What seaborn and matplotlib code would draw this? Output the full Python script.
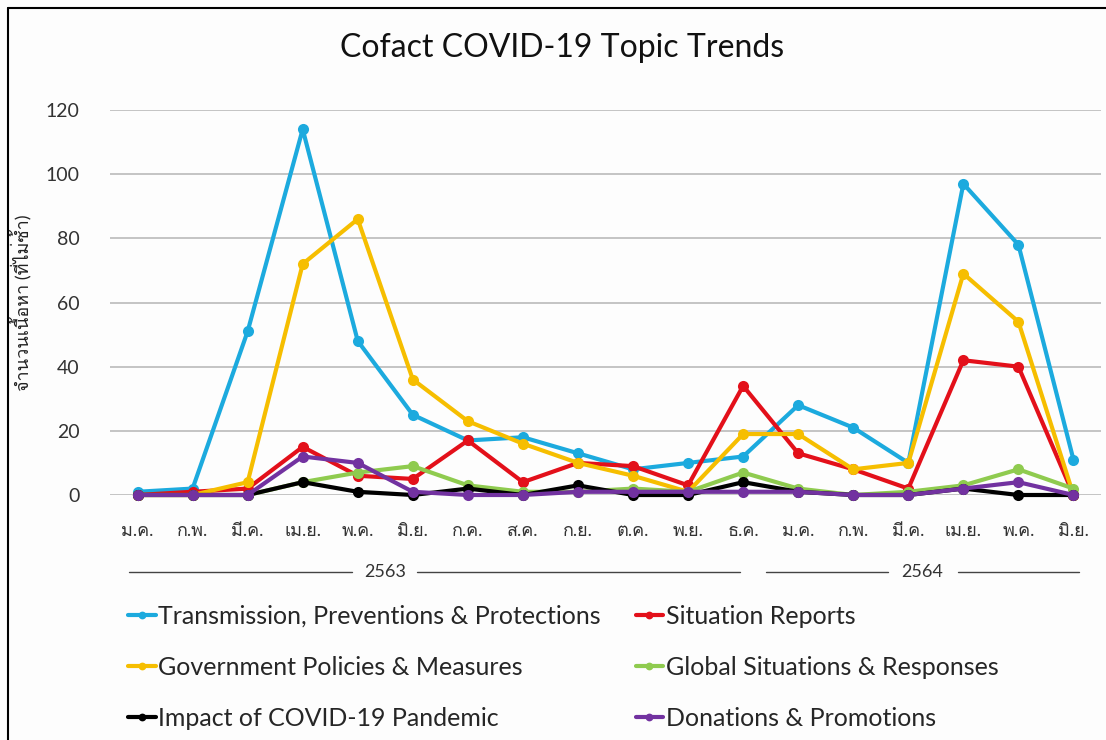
import numpy as np
import pandas as pd
import seaborn as sns
import matplotlib.pyplot as plt
from matplotlib import font_manager
from matplotlib.ft2font import FT2Font
from matplotlib.lines import Line2D

sns.set_style("white")

# look for any installed font that can draw Thai
thai_family = None
for f in font_manager.fontManager.ttflist:
    try:
        if ord('ม') in FT2Font(f.fname).get_charmap():
            thai_family = f.name
            break
    except Exception:
        pass

families = ['Lato']
if thai_family:
    families.append(thai_family)
families.append('DejaVu Sans')
plt.rcParams['font.family'] = families

months = ['ม.ค.', 'ก.พ.', 'มี.ค.', 'เม.ย.', 'พ.ค.', 'มิ.ย.', 'ก.ค.', 'ส.ค.', 'ก.ย.',
          'ต.ค.', 'พ.ย.', 'ธ.ค.', 'ม.ค.', 'ก.พ.', 'มี.ค.', 'เม.ย.', 'พ.ค.', 'มิ.ย.']

transmission = [1, 2, 51, 114, 48, 25, 17, 18, 13, 8, 10, 12, 28, 21, 10, 97, 78, 11]
situation = [0, 1, 2, 15, 6, 5, 17, 4, 10, 9, 3, 34, 13, 8, 2, 42, 40, 0]
government = [0, 0, 4, 72, 86, 36, 23, 16, 10, 6, 1, 19, 19, 8, 10, 69, 54, 0]
global_sit = [0, 0, 0, 4, 7, 9, 3, 1, 1, 2, 1, 7, 2, 0, 1, 3, 8, 2]
impact = [0, 0, 0, 4, 1, 0, 2, 0, 3, 0, 0, 4, 1, 0, 0, 2, 0, 0]
donations = [0, 0, 0, 12, 10, 1, 0, 0, 1, 1, 1, 1, 1, 0, 0, 2, 4, 0]

topics = ['Transmission, Preventions & Protections', 'Situation Reports',
          'Government Policies & Measures', 'Global Situations & Responses',
          'Impact of COVID-19 Pandemic', 'Donations & Promotions']
colors = ['#1CAADE', '#E3101A', '#F6BE00', '#8FCB4F', '#000000', '#7232A0']
series = [transmission, situation, government, global_sit, impact, donations]

rows = []
for topic, vals in zip(topics, series):
    for i, v in enumerate(vals):
        rows.append({'month': i, 'count': v, 'topic': topic})
df = pd.DataFrame(rows)

W, H = 1106, 740
fig = plt.figure(figsize=(W / 100, H / 100), dpi=100)
fig.patch.set_facecolor('#FDFDFD')
ax = fig.add_axes([110 / W, 1 - 495 / H, (1101 - 110) / W, (495 - 110) / H])
ax.set_facecolor('none')

sns.lineplot(data=df, x='month', y='count', hue='topic', hue_order=topics,
             palette=dict(zip(topics, colors)), marker='o', markersize=8,
             markeredgewidth=0, linewidth=3, ax=ax, clip_on=False)

ax.set_xlim(-0.5, 17.5)
ax.set_ylim(0, 120)
ax.set_yticks(range(0, 121, 20))
ax.set_xticks(range(len(months)))
ax.set_xticklabels(months, fontsize=13, color='#333333')
ax.tick_params(axis='y', labelsize=14, colors='#333333', pad=22, length=0)
ax.tick_params(axis='x', pad=20, length=0)
ax.yaxis.grid(True, color='#BFBFBF', linewidth=1.3)
ax.set_axisbelow(True)
for s in ax.spines.values():
    s.set_visible(False)
ax.set_xlabel('')
ax.set_ylabel('จำนวนเนื้อหา (ที่ไม่ซ้ำ)', fontsize=13, color='#222222', labelpad=10)

# legend in excel row order (2 columns)
handles, labels = ax.get_legend_handles_labels()
order = [0, 2, 4, 1, 3, 5]
ax.legend([handles[i] for i in order], [labels[i] for i in order],
          ncol=2, loc='upper left', bbox_to_anchor=(118 / W, 1 - 595 / H),
          bbox_transform=fig.transFigure, frameon=False, fontsize=18,
          handlelength=1.1, handletextpad=0.1, columnspacing=1.4,
          labelspacing=1.12, borderaxespad=0, markerscale=0.7)

fig.text(562 / W, 1 - 48 / H, 'Cofact COVID-19 Topic Trends', ha='center',
         va='center', fontsize=23, color='#111111')

# year brackets under the month labels
yy = 1 - 572 / H
for x0, x1 in [(129, 352), (417, 740), (766, 888), (958, 1079)]:
    fig.add_artist(Line2D([x0 / W, x1 / W], [yy, yy], color='#444444', linewidth=1))
fig.text(385 / W, yy, '2563', ha='center', va='center', fontsize=13, color='#333333')
fig.text(922 / W, yy, '2564', ha='center', va='center', fontsize=13, color='#333333')

# outer border (top and left)
fig.add_artist(Line2D([8 / W, 1], [1 - 8 / H, 1 - 8 / H], color='black', linewidth=1.5))
fig.add_artist(Line2D([8 / W, 8 / W], [0, 1 - 8 / H], color='black', linewidth=1.5))

fig.savefig('out.png', dpi=100, facecolor=fig.get_facecolor())
